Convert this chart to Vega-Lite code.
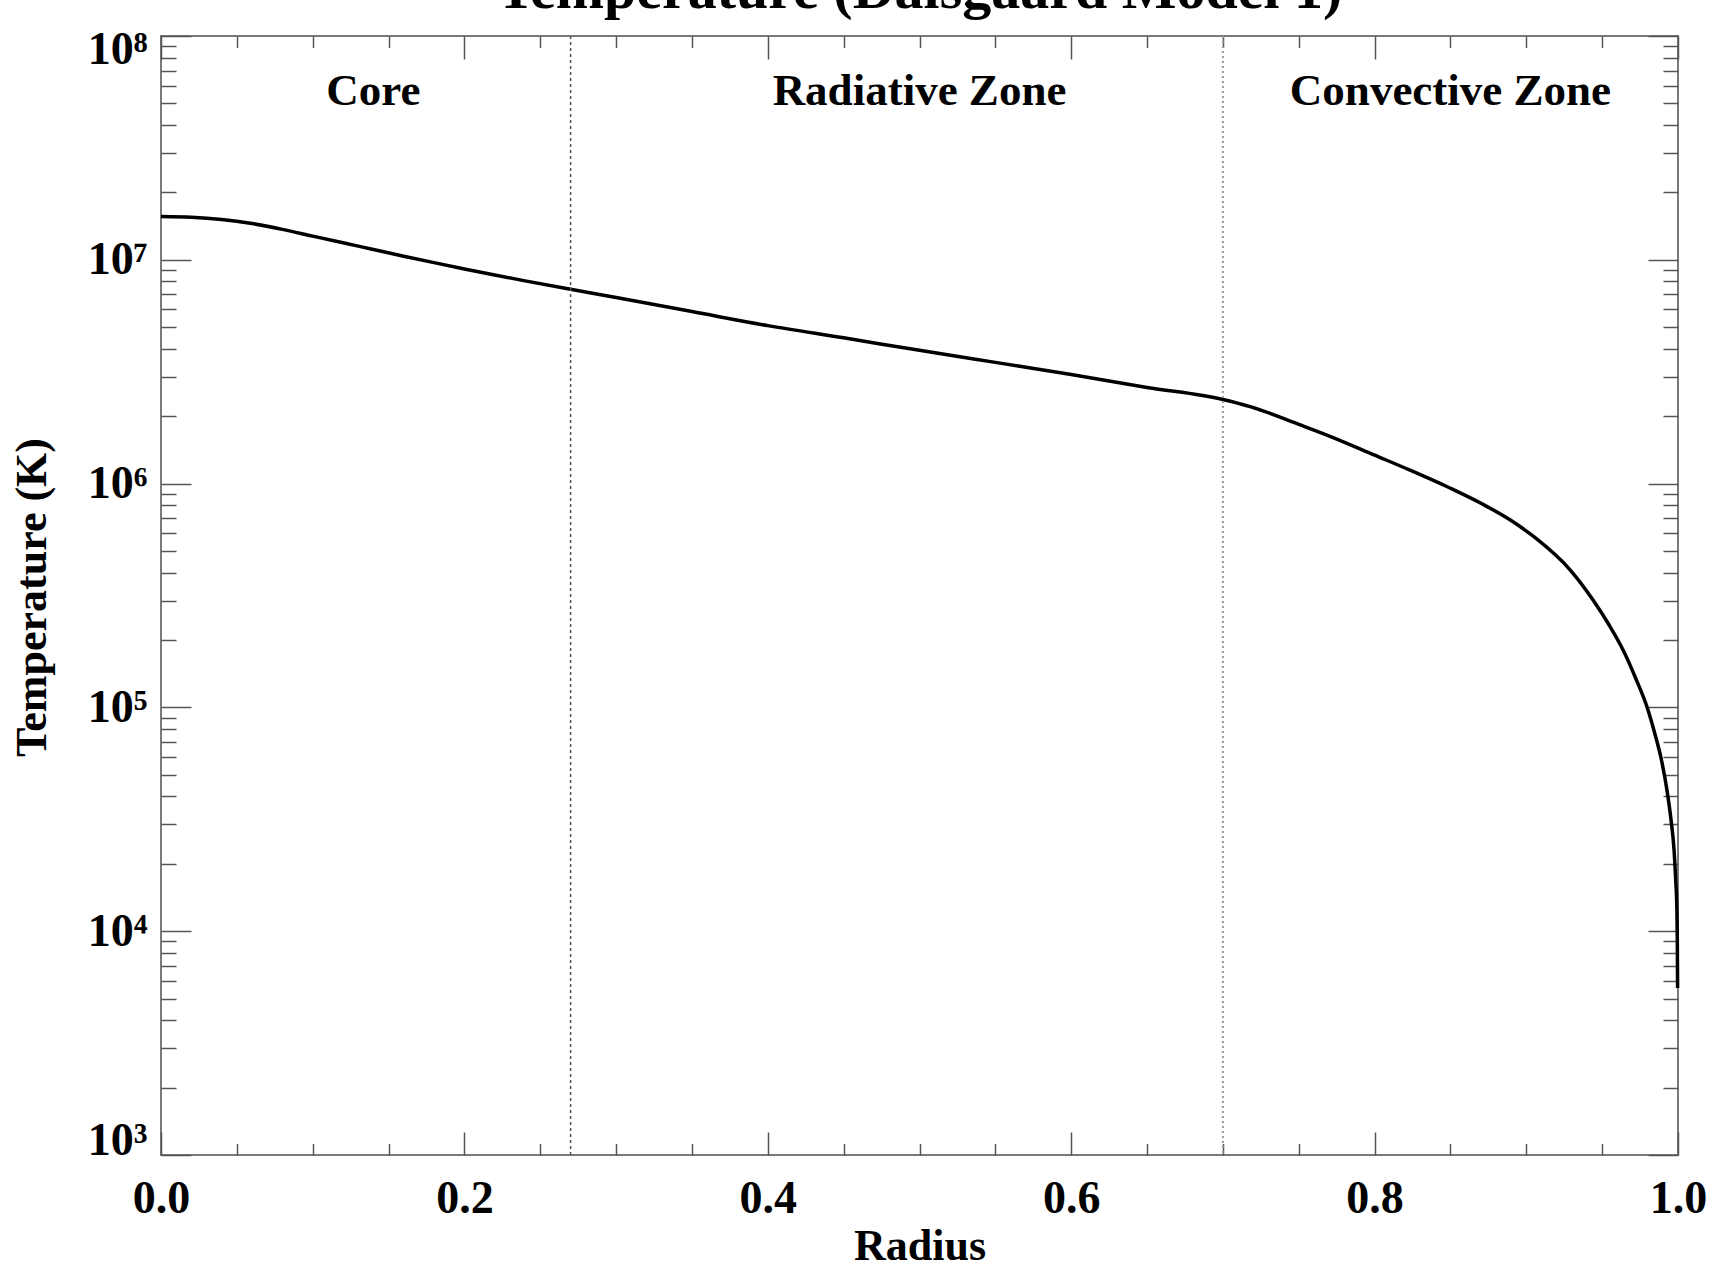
{
  "$schema": "https://vega.github.io/schema/vega-lite/v6.json",
  "width": 1517,
  "height": 1119,
  "autosize": {"type": "none"},
  "padding": {"left": 161, "top": 36, "right": 33, "bottom": 111},
  "background": "white",
  "title": {
    "text": "Temperature (Dalsgaard Model 1)",
    "font": "Liberation Serif",
    "fontSize": 58,
    "fontWeight": "bold",
    "color": "black",
    "anchor": "middle",
    "frame": "group",
    "baseline": "alphabetic",
    "offset": -43
  },
  "config": {
    "view": {"stroke": "#7a7a7a", "strokeWidth": 2},
    "axis": {
      "domain": false,
      "grid": false,
      "tickColor": "#555555",
      "tickWidth": 1.5,
      "labelColor": "black",
      "labelFont": "Liberation Serif",
      "labelFontWeight": "bold",
      "labelFontSize": 46,
      "labelOverlap": false,
      "labelBound": false,
      "titleColor": "black",
      "titleFont": "Liberation Serif",
      "titleFontWeight": "bold",
      "titleFontSize": 44
    }
  },
  "datasets": {
    "profile": [
      {"r": 0, "T": 15600000},
      {"r": 0.02, "T": 15490000},
      {"r": 0.04, "T": 15140000},
      {"r": 0.06, "T": 14520000},
      {"r": 0.08, "T": 13680000},
      {"r": 0.1, "T": 12760000},
      {"r": 0.12, "T": 11910000},
      {"r": 0.14, "T": 11120000},
      {"r": 0.16, "T": 10380000},
      {"r": 0.18, "T": 9710000},
      {"r": 0.2, "T": 9100000},
      {"r": 0.22, "T": 8550000},
      {"r": 0.24, "T": 8050000},
      {"r": 0.27, "T": 7380000},
      {"r": 0.3, "T": 6780000},
      {"r": 0.35, "T": 5870000},
      {"r": 0.4, "T": 5080000},
      {"r": 0.45, "T": 4480000},
      {"r": 0.5, "T": 3940000},
      {"r": 0.55, "T": 3480000},
      {"r": 0.6, "T": 3075000},
      {"r": 0.65, "T": 2690000},
      {"r": 0.7, "T": 2377000},
      {"r": 0.718, "T": 2208000},
      {"r": 0.751, "T": 1828000},
      {"r": 0.771, "T": 1622000},
      {"r": 0.8, "T": 1340000},
      {"r": 0.823, "T": 1151000},
      {"r": 0.85, "T": 953000},
      {"r": 0.872, "T": 804000},
      {"r": 0.89, "T": 684000},
      {"r": 0.905, "T": 579000},
      {"r": 0.929, "T": 411000},
      {"r": 0.944, "T": 302000},
      {"r": 0.9545, "T": 234000},
      {"r": 0.9638, "T": 180500},
      {"r": 0.9723, "T": 134000},
      {"r": 0.9798, "T": 99400},
      {"r": 0.9848, "T": 76000},
      {"r": 0.9891, "T": 58200},
      {"r": 0.9927, "T": 42800},
      {"r": 0.9954, "T": 31400},
      {"r": 0.9974, "T": 23100},
      {"r": 0.9985, "T": 16900},
      {"r": 0.99928, "T": 12400},
      {"r": 0.99954, "T": 9140},
      {"r": 0.99974, "T": 5570}
    ],
    "zones": [
      {"r": 0.14, "T": 49200000, "name": "Core"},
      {"r": 0.5, "T": 49200000, "name": "Radiative Zone"},
      {"r": 0.85, "T": 49200000, "name": "Convective Zone"}
    ]
  },
  "layer": [
    {
      "data": {"name": "profile"},
      "mark": {"type": "line", "color": "black", "strokeWidth": 3.5, "interpolate": "monotone"},
      "encoding": {
        "x": {
          "field": "r",
          "type": "quantitative",
          "scale": {"domain": [0, 1], "nice": false, "zero": false},
          "axis": {
            "orient": "bottom",
            "values": [0, 0.05, 0.1, 0.15, 0.2, 0.25, 0.3, 0.35, 0.4, 0.45, 0.5, 0.55, 0.6, 0.65, 0.7, 0.75, 0.8, 0.85, 0.9, 0.95, 1],
            "tickSize": {"condition": {"test": "abs(datum.value*5 - round(datum.value*5)) < 1e-6", "value": -23}, "value": -11.5},
            "labelExpr": "abs(datum.value*5 - round(datum.value*5)) < 1e-6 ? format(datum.value, '.1f') : ''",
            "labelFlush": false,
            "labelPadding": 44,
            "title": "Radius",
            "titleX": 758.5,
            "titleY": 104,
            "titleBaseline": "alphabetic",
            "titleAlign": "center"
          }
        },
        "y": {
          "field": "T",
          "type": "quantitative",
          "scale": {"type": "log", "domain": [1000, 100000000], "nice": false},
          "axis": {
            "orient": "left",
            "values": [1000, 2000, 3000, 4000, 5000, 6000, 7000, 8000, 9000, 10000, 20000, 30000, 40000, 50000, 60000, 70000, 80000, 90000, 100000, 200000, 300000, 400000, 500000, 600000, 700000, 800000, 900000, 1000000, 2000000, 3000000, 4000000, 5000000, 6000000, 7000000, 8000000, 9000000, 10000000, 20000000, 30000000, 40000000, 50000000, 60000000, 70000000, 80000000, 90000000, 100000000],
            "tickSize": {"condition": {"test": "abs(log(datum.value)/LN10 - round(log(datum.value)/LN10)) < 1e-6", "value": -30}, "value": -15},
            "labelExpr": "abs(log(datum.value)/LN10 - round(log(datum.value)/LN10)) < 1e-6 ? '10' + ['⁰','¹','²','³','⁴','⁵','⁶','⁷','⁸','⁹'][round(log(datum.value)/LN10)] : ''",
            "labelPadding": 44,
            "labelFlush": true,
            "labelFlushOffset": 9,
            "title": "Temperature (K)",
            "titleX": -116,
            "titleY": 561,
            "titleAngle": -90,
            "titleBaseline": "alphabetic",
            "titleAlign": "center"
          }
        }
      }
    },
    {
      "data": {"values": [{"r": 0.27}]},
      "mark": {"type": "rule", "color": "#555555", "strokeWidth": 1.5, "strokeDash": [3, 3]},
      "encoding": {
        "x": {"field": "r", "type": "quantitative", "scale": {"domain": [0, 1], "nice": false, "zero": false}, "axis": null}
      }
    },
    {
      "data": {"values": [{"r": 0.7}]},
      "mark": {"type": "rule", "color": "#9a9a9a", "strokeWidth": 2, "strokeDash": [2, 3]},
      "encoding": {
        "x": {"field": "r", "type": "quantitative", "scale": {"domain": [0, 1], "nice": false, "zero": false}, "axis": null}
      }
    },
    {
      "data": {"name": "zones"},
      "mark": {"type": "text", "font": "Liberation Serif", "fontSize": 45, "fontWeight": "bold", "color": "black", "align": "center", "baseline": "alphabetic"},
      "encoding": {
        "text": {"field": "name", "type": "nominal"},
        "x": {
          "field": "r",
          "type": "quantitative",
          "scale": {"domain": [0, 1], "nice": false, "zero": false},
          "axis": {
            "orient": "top",
            "values": [0, 0.05, 0.1, 0.15, 0.2, 0.25, 0.3, 0.35, 0.4, 0.45, 0.5, 0.55, 0.6, 0.65, 0.7, 0.75, 0.8, 0.85, 0.9, 0.95, 1],
            "tickSize": {"condition": {"test": "abs(datum.value*5 - round(datum.value*5)) < 1e-6", "value": -23}, "value": -11.5},
            "labels": false,
            "title": null
          }
        },
        "y": {
          "field": "T",
          "type": "quantitative",
          "scale": {"type": "log", "domain": [1000, 100000000], "nice": false},
          "axis": {
            "orient": "right",
            "values": [1000, 2000, 3000, 4000, 5000, 6000, 7000, 8000, 9000, 10000, 20000, 30000, 40000, 50000, 60000, 70000, 80000, 90000, 100000, 200000, 300000, 400000, 500000, 600000, 700000, 800000, 900000, 1000000, 2000000, 3000000, 4000000, 5000000, 6000000, 7000000, 8000000, 9000000, 10000000, 20000000, 30000000, 40000000, 50000000, 60000000, 70000000, 80000000, 90000000, 100000000],
            "tickSize": {"condition": {"test": "abs(log(datum.value)/LN10 - round(log(datum.value)/LN10)) < 1e-6", "value": -30}, "value": -15},
            "labels": false,
            "title": null
          }
        }
      }
    }
  ],
  "resolve": {"axis": {"x": "independent", "y": "independent"}}
}
